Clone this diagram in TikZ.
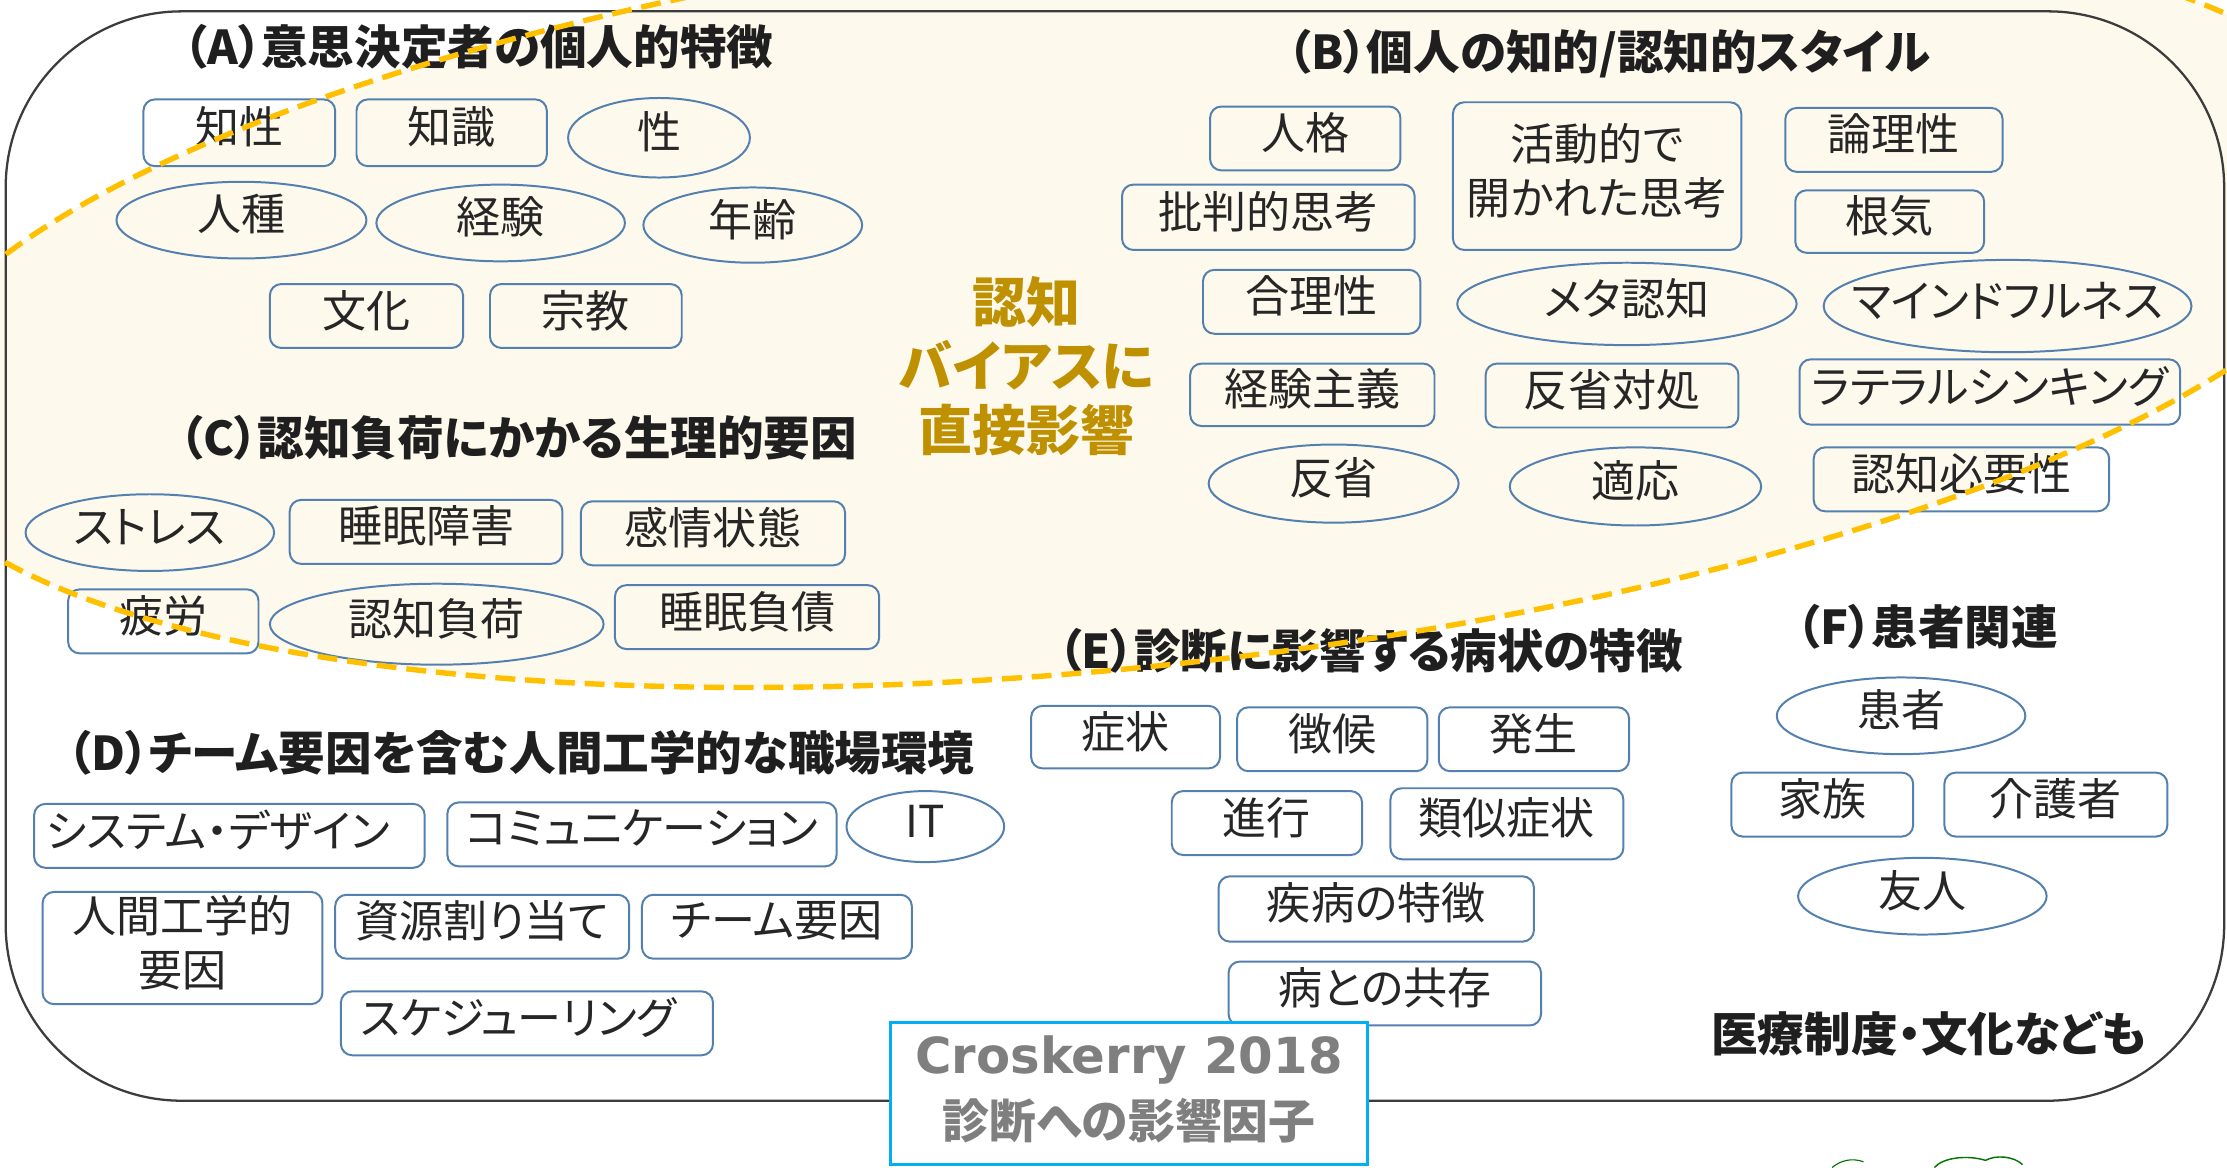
\documentclass[tikz,border=0pt]{standalone}
\usepackage{fontspec}
\newfontfamily\jp{Noto Sans CJK JP}[RawFeature=+palt]
\newfontfamily\dejavu{DejaVu Sans}
\usetikzlibrary{shapes.geometric}
\definecolor{cream}{RGB}{253,249,236}
\definecolor{dashgold}{RGB}{255,192,0}
\definecolor{nodeblue}{RGB}{84,128,176}
\definecolor{labelgold}{RGB}{191,144,0}
\definecolor{capblue}{RGB}{0,176,240}
\definecolor{capgray}{RGB}{127,127,127}
\definecolor{txt}{RGB}{38,38,38}
\definecolor{framegray}{RGB}{60,60,60}
\tikzset{
  rbox/.style={draw=nodeblue, line width=0.7pt, rounded corners=4pt, inner sep=0pt},
  ebox/.style={draw=nodeblue, line width=0.7pt, ellipse, inner sep=0pt},
  boxtext/.style={font=\jp\fontsize{15.5}{19}\selectfont, text=txt, inner sep=0pt, align=center, yshift=2pt},
  heading/.style={font=\jp\bfseries\fontsize{16.4}{19}\selectfont, text=black!88, inner sep=0pt},
  bigframe/.style={draw=framegray, line width=0.8pt, rounded corners=62pt},
  biasline/.style={draw=dashgold, line width=1.9pt, dash pattern=on 7pt off 3.5pt},
}
\newcommand\rbx[7][0]{\node[rbox, minimum width={(#5-#3)*0.5pt}, minimum height={(#6-#4)*0.5pt}, label={[boxtext, xshift=#1pt]center:#7}] (#2) at ({(#3+#5)/2},{(#4+#6)/2}) {};}
\newcommand\elx[6]{\node[ebox, minimum width={(#4-#2)*0.5pt}, minimum height={(#5-#3)*0.5pt}, label={[boxtext]center:#6}] (#1) at ({(#2+#4)/2},{(#3+#5)/2}) {};}
\begin{document}
\begin{tikzpicture}[x=0.5pt, y=-0.5pt]
\useasboundingbox (0,0) rectangle (1568,822);
\clip (0,0) rectangle (1568,822);
\fill[white] (0,0) rectangle (1568,822);
% cognitive-bias region
\fill[cream, rotate around={6.1:(800,210)}] (800,210) ellipse [x radius=880, y radius=259];
% outer frame
\draw[bigframe] (4,8) rectangle (1566,775);

% headings
\node[heading] (hA) at (337,33) {（A）意思決定者の個人的特徴};
\node[heading] (hB) at (1133,38) {（B）個人の知的/認知的スタイル};
\node[heading] (hC) at (365,308) {（C）認知負荷にかかる生理的要因};
\node[heading] (hD) at (367,530) {（D）チーム要因を含む人間工学的な職場環境};
\node[heading] (hE) at (965,458) {（E）診断に影響する病状の特徴};
\node[heading] (hF) at (1357,441) {（F）患者関連};
\node[heading] (hG) at (1358,728) {医療制度・文化なども};

% center label
\node[font=\jp\bfseries\fontsize{19}{22.5}\selectfont, text=labelgold, align=center, inner sep=0pt] (bias) at (723,258) {認知\\バイアスに\\直接影響};

% (A)
\rbx{chisei}{101}{70}{236}{117}{知性}
\rbx{chishiki}{251}{70}{385}{117}{知識}
\elx{sei}{400}{69}{528}{125}{性}
\elx{jinshu}{82}{128}{258}{182}{人種}
\elx{keiken}{265}{130}{440}{184}{経験}
\elx{nenrei}{453}{132}{607}{185}{年齢}
\rbx{bunka}{190}{200}{326}{245}{文化}
\rbx{shukyo}{345}{200}{480}{245}{宗教}

% (C)
\elx{stress}{18}{348}{193}{402}{ストレス}
\rbx{suimin}{204}{352}{396}{397}{睡眠障害}
\rbx{kanjo}{409}{353}{595}{398}{感情状態}
\rbx{hiro}{48}{415}{182}{460}{疲労}
\elx{fuka}{190}{411}{425}{468}{認知負荷}
\rbx{fusai}{433}{412}{619}{457}{睡眠負債}

% (B)
\rbx{jinkaku}{852}{75}{986}{120}{人格}
\rbx{katsudo}{1023}{72}{1226}{176}{活動的で\\開かれた思考}
\rbx{ronri}{1257}{76}{1410}{121}{論理性}
\rbx{hihan}{790}{130}{996}{176}{批判的思考}
\rbx{konki}{1264}{134}{1397}{178}{根気}
\rbx{gori}{847}{190}{1000}{235}{合理性}
\elx{meta}{1026}{185}{1265}{243}{メタ認知}
\elx{mind}{1284}{183}{1543}{248}{マインドフルネス}
\rbx{keikenshugi}{838}{256}{1010}{300}{経験主義}
\rbx{hanseitaisho}{1046}{256}{1224}{301}{反省対処}
\rbx{lateral}{1267}{253}{1535}{299}{ラテラルシンキング}
\elx{hansei}{851}{313}{1027}{368}{反省}
\elx{tekio}{1063}{315}{1240}{370}{適応}
\rbx{hitsuyo}{1277}{315}{1485}{360}{認知必要性}

% (E)
\rbx{shojo}{726}{497}{859}{541}{症状}
\rbx{choko}{871}{498}{1005}{543}{徴候}
\rbx{hassei}{1013}{498}{1147}{543}{発生}
\rbx{shinko}{825}{557}{959}{602}{進行}
\rbx{ruiji}{979}{555}{1143}{605}{類似症状}
\rbx{shippei}{858}{617}{1080}{663}{疾病の特徴}
\rbx{kyozon}{865}{677}{1085}{722}{病との共存}

% (F)
\elx{kanja}{1251}{477}{1426}{531}{患者}
\rbx{kazoku}{1219}{544}{1347}{589}{家族}
\rbx{kaigo}{1369}{544}{1526}{589}{介護者}
\elx{yujin}{1266}{604}{1441}{658}{友人}

% (D)
\rbx[-4]{system}{24}{566}{299}{611}{システム・デザイン}
\rbx{comm}{315}{565}{589}{610}{コミュニケーション}
\elx{it}{596}{557}{707}{607}{IT}
\rbx{ningen}{30}{628}{227}{707}{人間工学的\\要因}
\rbx{shigen}{236}{630}{443}{675}{資源割り当て}
\rbx{team}{452}{630}{642}{675}{チーム要因}
\rbx[-3]{sched}{240}{698}{502}{743}{スケジューリング}

% dashed outline of the bias region (drawn over the nodes)
\draw[biasline, rotate around={6.1:(800,210)}] (800,210) ellipse [x radius=880, y radius=259];

% caption
\node[draw=capblue, line width=0.9pt, fill=white, minimum width=168pt, minimum height=50pt, inner sep=0pt] (cap) at (795,770) {};
\node[font=\dejavu\bfseries\fontsize{17.5}{20}\selectfont, text=capgray, inner sep=0pt] (capa) at (795,746) {Croskerry 2018};
\node[font=\jp\bfseries\fontsize{16.5}{20}\selectfont, text=capgray, inner sep=0pt] (capb) at (795,789) {診断への影響因子};

% small green sketch at the lower edge
\draw[green!45!black, line width=0.4pt] (1290,822) .. controls (1296,817) and (1304,815) .. (1312,818);
\draw[green!45!black, line width=0.5pt] (1362,822) .. controls (1368,815) and (1385,813) .. (1398,817) .. controls (1405,813) and (1418,814) .. (1424,820);
\end{tikzpicture}
\end{document}
